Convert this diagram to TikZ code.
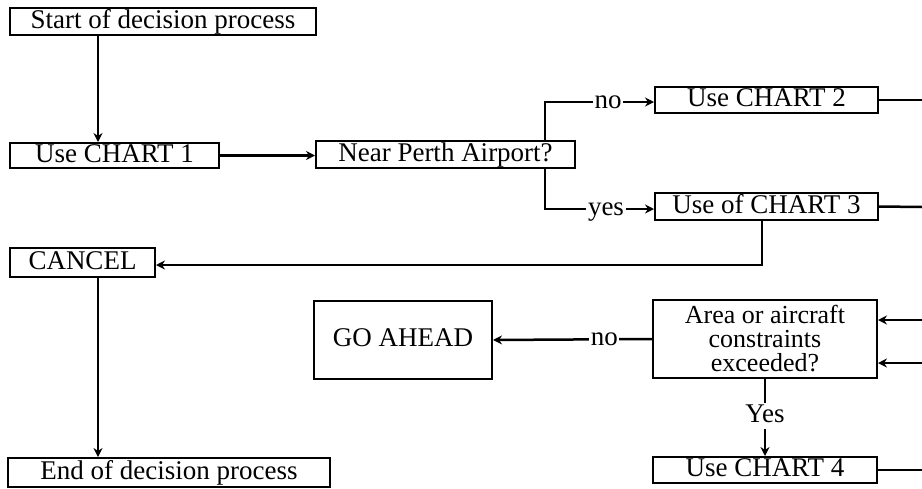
\documentclass[tikz,border=0pt]{standalone}
\usepackage{fontspec}
\setmainfont{Liberation Serif}
\usetikzlibrary{arrows.meta,calc}
\begin{document}
\begin{tikzpicture}[x=1pt,y=-1pt,
  box/.style={draw,line width=2pt,rectangle,inner sep=0pt,font=\fontsize{27}{27}\selectfont,text height=18pt,text depth=5pt},
  lbl/.style={inner sep=1.5pt,font=\fontsize{27}{27}\selectfont,text height=18pt,text depth=5pt},
  conn/.style={line width=2.5pt},
  arr/.style={conn,-{Stealth[length=9pt,width=9pt]}}]
\useasboundingbox[fill=white] (0,0) rectangle (922,488);
\node[box,minimum width=306,minimum height=27] (start) at (163,21.5) {Start of decision process};
\node[box,minimum width=209,minimum height=25] (c1) at (114.5,155.5) {Use CHART 1};
\node[box,minimum width=259,minimum height=27] (perth) at (445.5,154.5) {Near Perth Airport?};
\node[box,minimum width=223,minimum height=26] (c2) at (766.5,100) {Use CHART 2};
\node[box,minimum width=223,minimum height=27] (c3) at (766.5,206.5) {Use of CHART 3};
\node[box,minimum width=145,minimum height=29] (cancel) at (82.5,262.5) {CANCEL};
\node[box,minimum width=178,minimum height=78] (go) at (403,340) {GO AHEAD};
\node[box,minimum width=224,minimum height=78,align=center,text height=,text depth=,font=\fontsize{26}{24}\selectfont] (area) at (765,339) {Area or aircraft\\constraints\\exceeded?};
\node[box,minimum width=224,minimum height=26] (c4) at (765,470) {Use CHART 4};
\node[box,minimum width=322,minimum height=29] (end) at (169,472.5) {End of decision process};
\node[lbl] (no1) at (608,102) {no};
\node[lbl] (yes1) at (606,209) {yes};
\coordinate (col1) at (98,0);
\coordinate (colb) at (545,0);
\coordinate (col3) at (762,0);
\coordinate (r2) at (922,100);
\coordinate (r3) at (922,207);
\coordinate (ra) at (922,320);
\coordinate (rb) at (922,363);
\coordinate (r4) at (922,470);
\draw[arr] (start.south -| col1) -- (c1.north -| col1);
\draw[arr] (c1.east) -- (c1.east -| perth.west);
\draw[conn] (perth.north -| colb) |- (no1.west);
\draw[conn] (perth.south -| colb) |- (yes1.west);
\draw[arr] (no1.east) -- (no1.east -| c2.west);
\draw[arr] (yes1.east) -- (yes1.east -| c3.west);
\draw[conn] (c2.east) -- (r2);
\draw[conn] (c3.east) -- (r3);
\draw[conn] (c4.east) -- (r4);
\draw[arr] (ra) -- (ra -| area.east);
\draw[arr] (rb) -- (rb -| area.east);
\draw[arr] (c3.south -| col3) |- ($(cancel.east)+(0,2.5)$);
\draw[arr] (cancel.south -| col1) -- (end.north -| col1);
\draw[arr] (area.west) -- node[pos=0.3,fill=white,lbl] {no} (go.east);
\draw[arr] (area.south -| c4.north) -- node[pos=0.48,fill=white,lbl] {Yes} (c4.north);
\end{tikzpicture}
\end{document}
